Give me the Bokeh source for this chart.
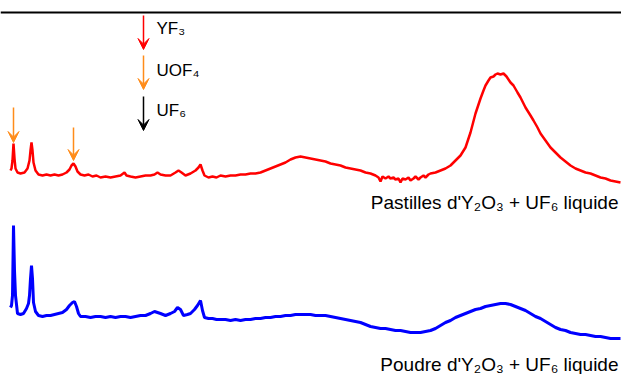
from bokeh.plotting import figure
from bokeh.models import Range1d, Span, Arrow, VeeHead, Label
from bokeh.embed import file_html
from bokeh.resources import INLINE

# Raman-like shift (arbitrary units) and intensities (arbitrary units)
red_x = [10, 11, 12, 13, 14, 15, 17, 20, 24, 27, 29, 30, 31, 32, 33, 35, 38, 42, 46, 50,
         54, 58, 62, 66, 69, 71, 73, 75, 77, 80, 84, 88, 92, 96, 100, 105, 110, 115, 120, 124,
         126, 130, 135, 140, 145, 150, 154, 157, 160, 165, 170, 175, 178, 181, 185, 190, 195, 198, 200, 202,
         204, 208, 212, 216, 220, 225, 230, 235, 240, 245, 250, 255, 260, 265, 270, 275, 280, 285, 290, 295,
         300, 305, 310, 315, 320, 325, 330, 335, 340, 345, 350, 355, 360, 365, 370, 375, 378, 380, 382, 385,
         388, 390, 393, 395, 398, 400, 402, 405, 408, 410, 413, 415, 418, 420, 423, 425, 428, 430, 435, 440,
         445, 450, 455, 460, 465, 470, 475, 478, 480, 483, 485, 488, 490, 493, 495, 497, 500, 503, 506, 510,
         513, 517, 520, 525, 530, 533, 537, 540, 545, 550, 555, 560, 565, 570, 575, 580, 585, 590, 595, 600,
         605, 610, 615, 620]
red_y = [204, 206, 214, 231, 216, 206, 202, 201, 202, 206, 214, 224, 232, 224, 212, 204, 200, 199, 200, 199,
         200, 199, 200, 202, 205, 209, 211, 208, 203, 200, 199, 200, 198, 199, 197, 198, 197, 198, 199, 202,
         199, 198, 197, 198, 199, 199, 200, 202, 200, 199, 199, 202, 204, 202, 199, 201, 204, 207, 210, 204,
         199, 197, 198, 197, 199, 198, 199, 199, 200, 200, 201, 201, 202, 204, 206, 208, 210, 212, 215, 217,
         218, 217, 216, 215, 214, 213, 211, 210, 209, 207, 206, 205, 204, 202, 201, 199, 197, 193, 198, 196,
         198, 196, 197, 195, 196, 192, 196, 195, 197, 194, 196, 198, 195, 197, 199, 197, 200, 201, 202, 204,
         206, 209, 214, 219, 227, 242, 261, 270, 276, 284, 289, 294, 297, 298, 300, 301, 300, 301, 298, 292,
         289, 282, 277, 267, 259, 254, 247, 241, 234, 227, 222, 217, 213, 209, 206, 204, 202, 201, 199, 197,
         196, 194, 193, 192]

blue_x = [10, 11, 12, 13, 14, 15, 17, 20, 23, 26, 28, 29, 30, 31, 32, 33, 35, 38, 42, 46,
          50, 54, 58, 62, 66, 69, 72, 74, 76, 78, 80, 85, 90, 95, 100, 105, 110, 115, 120, 125,
          130, 135, 140, 145, 150, 154, 157, 160, 165, 170, 174, 177, 180, 183, 187, 190, 194, 197, 200, 202,
          204, 208, 212, 216, 220, 225, 230, 235, 240, 245, 250, 255, 260, 265, 270, 275, 280, 285, 290, 295,
          300, 305, 310, 315, 320, 325, 330, 335, 340, 345, 350, 355, 360, 365, 370, 375, 380, 385, 390, 395,
          400, 405, 410, 415, 420, 425, 430, 435, 440, 445, 450, 455, 460, 465, 470, 475, 480, 485, 490, 495,
          500, 505, 510, 515, 520, 525, 530, 535, 540, 545, 550, 555, 560, 565, 570, 575, 580, 585, 590, 595,
          600, 605, 610, 615, 620]
blue_y = [67, 69, 79, 149, 104, 79, 61, 60, 61, 66, 71, 79, 96, 109, 96, 72, 63, 59, 58, 59,
          59, 60, 61, 62, 65, 69, 72, 73, 68, 61, 58, 58, 57, 58, 58, 57, 58, 57, 58, 58,
          57, 58, 59, 59, 61, 63, 62, 61, 59, 61, 63, 67, 65, 59, 60, 61, 65, 69, 74, 64,
          57, 56, 56, 55, 55, 55, 54, 55, 54, 55, 55, 56, 56, 57, 57, 58, 58, 59, 59, 60,
          60, 60, 60, 59, 59, 59, 58, 57, 56, 55, 54, 53, 52, 50, 48, 47, 46, 46, 45, 44,
          44, 43, 42, 42, 42, 43, 44, 46, 49, 52, 54, 57, 59, 61, 63, 65, 66, 68, 69, 70,
          71, 71, 70, 68, 66, 64, 61, 58, 56, 53, 50, 47, 45, 44, 42, 41, 40, 40, 39, 38,
          38, 37, 36, 36, 36]

# peaks marked on the pellet spectrum (UOF4)
uof4_peaks = [13, 73]
uof4_arrow_top = [267, 247]
uof4_arrow_tip = [232, 214]

legend_names = ["YF\u2083", "UOF\u2084", "UF\u2086"]
legend_colors = ["#ff0000", "#ff8c1a", "#000000"]
legend_arrow_top = [359, 319, 278]
legend_arrow_tip = [325, 285, 244]
legend_text_y = [346, 304, 264]

series_labels = ["Pastilles d'Y\u2082O\u2083 + UF\u2086 liquide", "Poudre d'Y\u2082O\u2083 + UF\u2086 liquide"]
series_label_y = [172, 10]

FONT = "Liberation Sans"

p = figure(width=621, height=374, output_backend="svg", toolbar_location=None,
           x_range=Range1d(0, 621), y_range=Range1d(0, 374), min_border=0)
p.axis.visible = False
p.grid.visible = False
p.outline_line_color = None
p.background_fill_color = "white"
p.border_fill_color = "white"

p.add_layout(Span(location=362, dimension="width", line_color="black", line_width=2))

p.line(red_x, red_y, line_color="#ff0000", line_width=2.5)
p.line(blue_x, blue_y, line_color="#0000ff", line_width=3)

for x, y0, y1 in zip(uof4_peaks, uof4_arrow_top, uof4_arrow_tip):
    p.add_layout(Arrow(x_start=x, y_start=y0, x_end=x, y_end=y1,
                       line_color="#ff8c1a", line_width=1.5,
                       end=VeeHead(size=11, fill_color="#ff8c1a", line_color="#ff8c1a")))

for name, c, y0, y1, ty in zip(legend_names, legend_colors, legend_arrow_top,
                               legend_arrow_tip, legend_text_y):
    p.add_layout(Arrow(x_start=143, y_start=y0, x_end=143, y_end=y1,
                       line_color=c, line_width=1.5,
                       end=VeeHead(size=11, fill_color=c, line_color=c)))
    p.add_layout(Label(x=156, y=ty, text=name, text_font=FONT, text_font_size="17px",
                       text_color="black", text_baseline="alphabetic"))

for lab, ly in zip(series_labels, series_label_y):
    p.add_layout(Label(x=618, y=ly, text=lab, text_font=FONT, text_font_size="19px",
                       text_color="black", text_align="right", text_baseline="alphabetic"))

open("out.html", "w").write(file_html(p, INLINE))
